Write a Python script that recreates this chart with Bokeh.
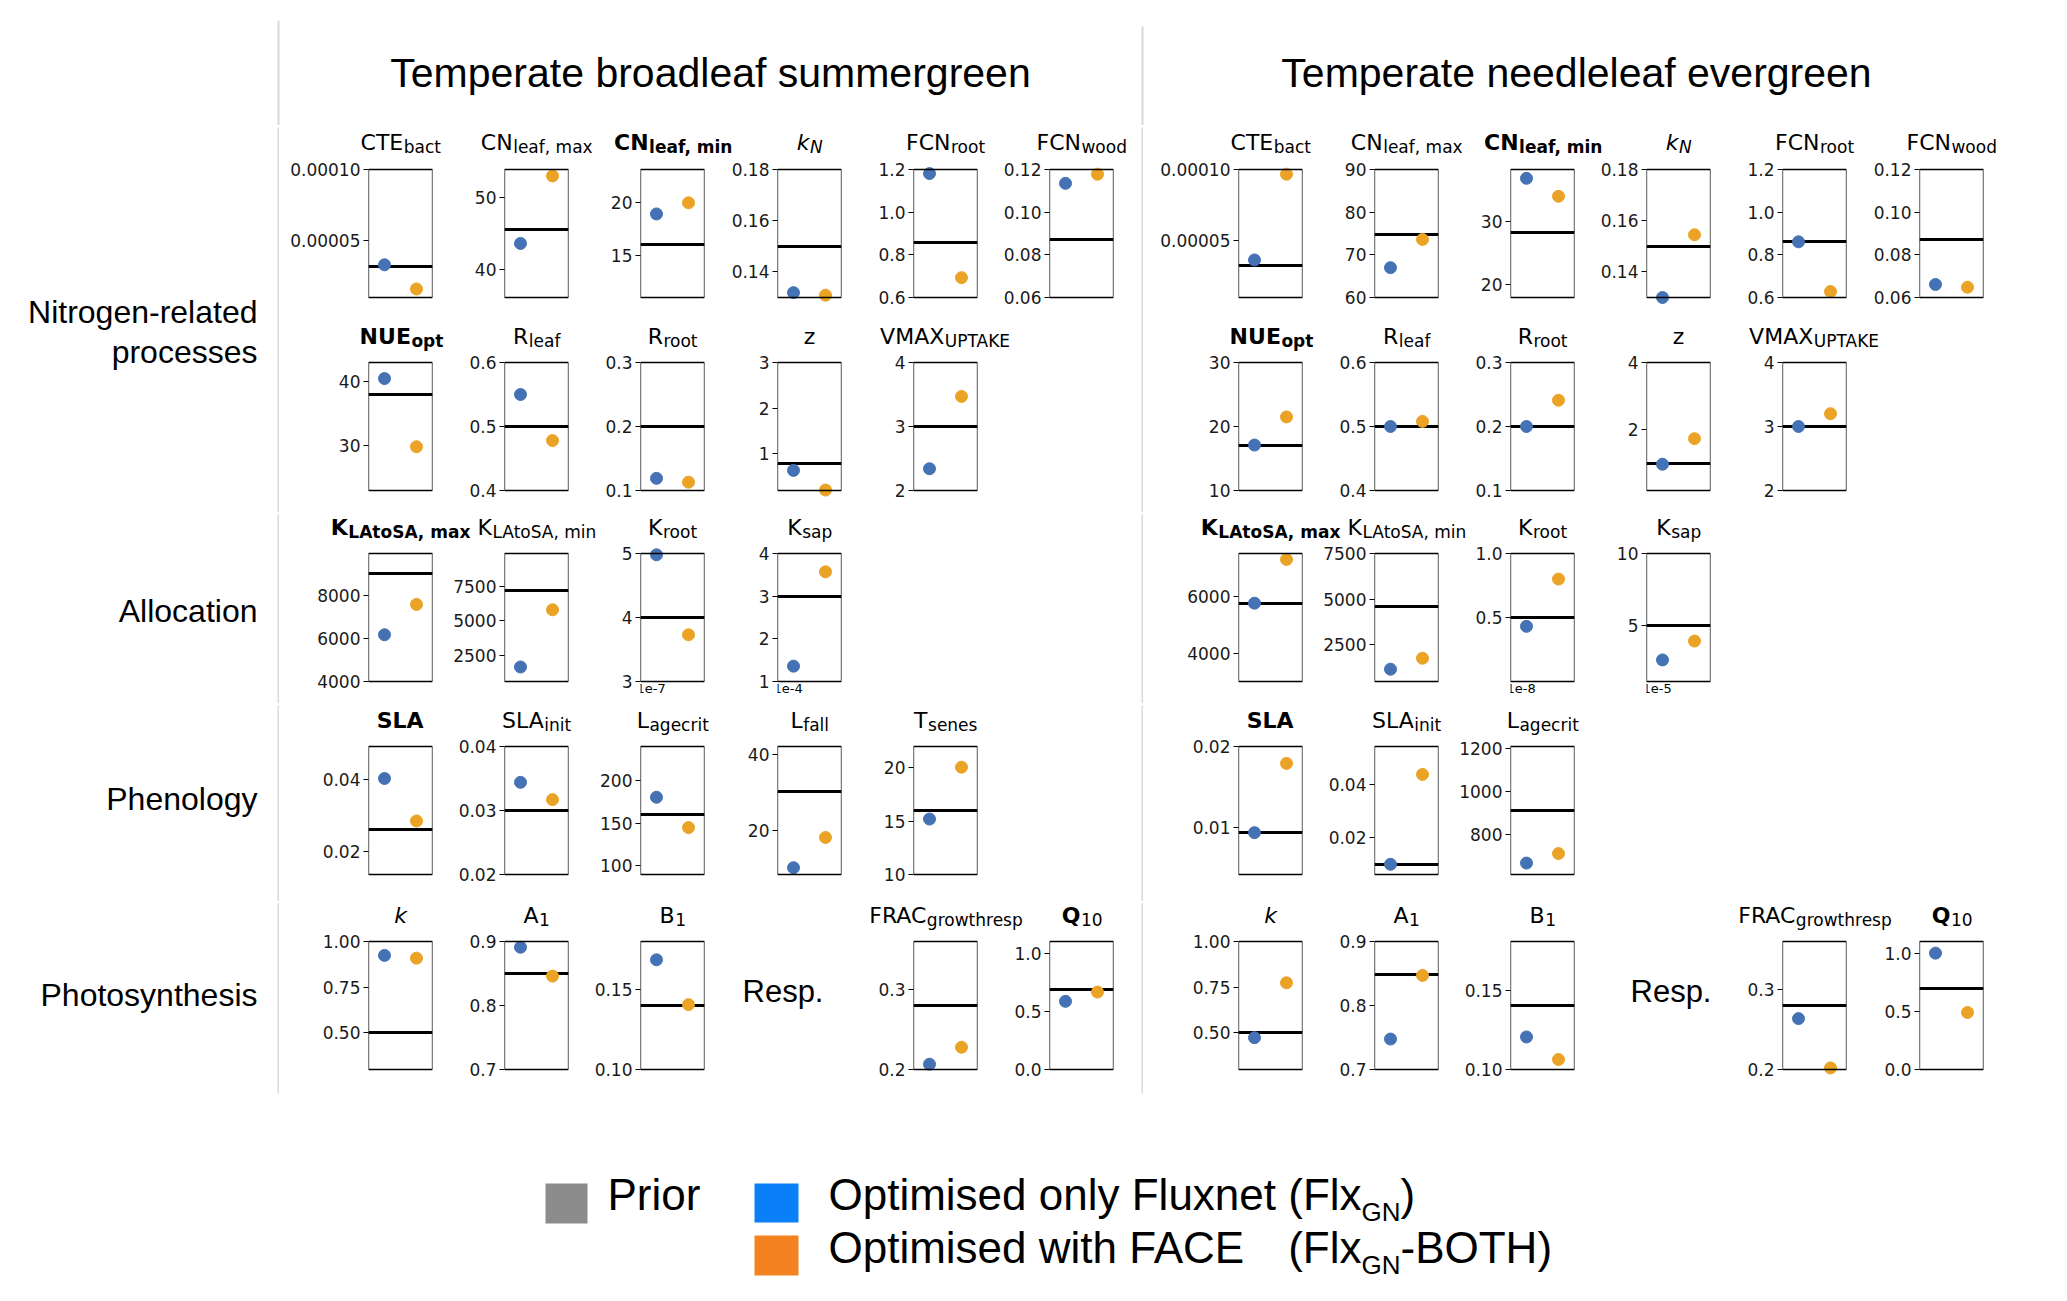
import math
from bokeh.plotting import figure
from bokeh.layouts import row, column
from bokeh.models import (Range1d, FactorRange, FixedTicker, CustomJSTickFormatter,
                          BoxAnnotation, Label, Spacer, ColumnDataSource)
from bokeh.embed import file_html
from bokeh.resources import INLINE
from bokeh.core.properties import value
from bokeh.core.validation import silence
from bokeh.core.validation.warnings import MISSING_RENDERERS

silence(MISSING_RENDERERS, True)

# ======================= DATA =======================
PFT_TITLES = ["Temperate broadleaf summergreen", "Temperate needleleaf evergreen"]
GROUP_LABELS = [["Nitrogen-related", "processes"], ["Allocation"], ["Phenology"], ["Photosynthesis"]]
RESP_LABEL = "Resp."
SERIES = ["FlxGN", "FlxGN-BOTH"]
LEGEND_PRIOR = "Prior"
LEGEND_FLX = ["Optimised only Fluxnet (Flx", "GN", ")"]
LEGEND_BOTH = ["Optimised with FACE", "(Flx", "GN", "-BOTH)"]

# title of each parameter: (main text, subscript, main style, subscript style)
TITLES = {
    "CTEbact": ("CTE", "bact", "normal", "normal"),
    "CNleaf,max": ("CN", "leaf, max", "normal", "normal"),
    "CNleaf,min": ("CN", "leaf, min", "bold", "bold"),
    "kN": ("k", "N", "italic", "italic"),
    "FCNroot": ("FCN", "root", "normal", "normal"),
    "FCNwood": ("FCN", "wood", "normal", "normal"),
    "NUEopt": ("NUE", "opt", "bold", "bold"),
    "Rleaf": ("R", "leaf", "normal", "normal"),
    "Rroot": ("R", "root", "normal", "normal"),
    "z": ("z", "", "normal", "normal"),
    "VMAXUPTAKE": ("VMAX", "UPTAKE", "normal", "normal"),
    "KLAtoSA,max": ("K", "LAtoSA, max", "bold", "bold"),
    "KLAtoSA,min": ("K", "LAtoSA, min", "normal", "normal"),
    "Kroot": ("K", "root", "normal", "normal"),
    "Ksap": ("K", "sap", "normal", "normal"),
    "SLA": ("SLA", "", "bold", "bold"),
    "SLAinit": ("SLA", "init", "normal", "normal"),
    "Lagecrit": ("L", "agecrit", "normal", "normal"),
    "Lfall": ("L", "fall", "normal", "normal"),
    "Tsenes": ("T", "senes", "normal", "normal"),
    "k": ("k", "", "italic", "italic"),
    "A1": ("A", "1", "normal", "normal"),
    "B1": ("B", "1", "normal", "normal"),
    "FRACgrowthresp": ("FRAC", "growthresp", "normal", "normal"),
    "Q10": ("Q", "10", "bold", "normal"),
}

# ---- Temperate broadleaf summergreen ----
PARAMS_BS = ["CTEbact", "CNleaf,max", "CNleaf,min", "kN", "FCNroot", "FCNwood",
             "NUEopt", "Rleaf", "Rroot", "z", "VMAXUPTAKE",
             "KLAtoSA,max", "KLAtoSA,min", "Kroot", "Ksap",
             "SLA", "SLAinit", "Lagecrit", "Lfall", "Tsenes",
             "k", "A1", "B1", "FRACgrowthresp", "Q10"]
PRIOR_BS = [3.2e-5, 45.5, 16.0, 0.150, 0.86, 0.087,
            38.0, 0.50, 0.20, 0.80, 3.0,
            9050, 7190, 4.0e-7, 3.0e-4,
            0.0259, 0.030, 160, 30.3, 16.0,
            0.50, 0.85, 0.140, 0.280, 0.69]
FLX_BS = [3.3e-5, 43.6, 18.9, 0.1319, 1.181, 0.1135,
          40.4, 0.55, 0.119, 0.64, 2.34,
          6185, 1635, 4.98e-7, 1.36e-4,
          0.0402, 0.0344, 180.5, 10.1, 15.2,
          0.924, 0.891, 0.169, 0.2067, 0.589]
BOTH_BS = [1.6e-5, 53.1, 19.95, 0.1309, 0.693, 0.1178,
           29.8, 0.478, 0.113, 0.21, 3.47,
           7600, 5790, 3.73e-7, 3.57e-4,
           0.0284, 0.0317, 145, 18.1, 20.06,
           0.909, 0.846, 0.1408, 0.228, 0.669]
YLO_BS = [1e-5, 36, 11, 0.13, 0.6, 0.06,
          23, 0.4, 0.1, 0.2, 2,
          4000, 580, 3e-7, 1e-4,
          0.0135, 0.02, 90, 8.3, 10,
          0.3, 0.7, 0.10, 0.2, 0.0]
YHI_BS = [1e-4, 54, 23.1, 0.18, 1.2, 0.12,
          42.9, 0.6, 0.3, 3, 4,
          9980, 9880, 5e-7, 4e-4,
          0.0491, 0.04, 240, 42.2, 22,
          1.0, 0.9, 0.1805, 0.361, 1.106]
TICKS_BS = [[5e-5, 1e-4], [40, 50], [15, 20], [0.14, 0.16, 0.18], [0.6, 0.8, 1.0, 1.2], [0.06, 0.08, 0.10, 0.12],
            [30, 40], [0.4, 0.5, 0.6], [0.1, 0.2, 0.3], [1, 2, 3], [2, 3, 4],
            [4000, 6000, 8000], [2500, 5000, 7500], [3e-7, 4e-7, 5e-7], [1e-4, 2e-4, 3e-4, 4e-4],
            [0.02, 0.04], [0.02, 0.03, 0.04], [100, 150, 200], [20, 40], [10, 15, 20],
            [0.5, 0.75, 1.0], [0.7, 0.8, 0.9], [0.10, 0.15], [0.2, 0.3], [0.0, 0.5, 1.0]]
SCALE_BS = [1, 1, 1, 1, 1, 1, 1, 1, 1, 1, 1, 1, 1, 1e-7, 1e-4, 1, 1, 1, 1, 1, 1, 1, 1, 1, 1]
DEC_BS = [5, 0, 0, 2, 1, 2, 0, 1, 1, 0, 0, 0, 0, 0, 0, 2, 2, 0, 0, 0, 2, 1, 2, 1, 1]
ROWS_BS = [[0, 1, 2, 3, 4, 5], [6, 7, 8, 9, 10], [11, 12, 13, 14], [15, 16, 17, 18, 19],
           [20, 21, 22, None, 23, 24]]

# ---- Temperate needleleaf evergreen ----
PARAMS_NE = ["CTEbact", "CNleaf,max", "CNleaf,min", "kN", "FCNroot", "FCNwood",
             "NUEopt", "Rleaf", "Rroot", "z", "VMAXUPTAKE",
             "KLAtoSA,max", "KLAtoSA,min", "Kroot", "Ksap",
             "SLA", "SLAinit", "Lagecrit",
             "k", "A1", "B1", "FRACgrowthresp", "Q10"]
PRIOR_NE = [3.22e-5, 74.8, 28.3, 0.150, 0.861, 0.087,
            17.1, 0.50, 0.20, 1.0, 3.0,
            5766, 4618, 0.5e-8, 5e-5,
            0.0093, 0.0101, 910,
            0.50, 0.849, 0.140, 0.280, 0.70]
FLX_NE = [3.64e-5, 67.0, 36.9, 0.1300, 0.861, 0.0661,
          17.1, 0.50, 0.20, 0.98, 3.0,
          5766, 1173, 0.431e-8, 2.56e-5,
          0.0093, 0.0101, 668,
          0.474, 0.7476, 0.1205, 0.264, 1.0]
BOTH_NE = [9.67e-5, 73.6, 34.05, 0.1545, 0.628, 0.0648,
           21.5, 0.508, 0.241, 1.74, 3.2,
           7310, 1773, 0.80e-8, 3.88e-5,
           0.0179, 0.0436, 712,
           0.774, 0.847, 0.1063, 0.202, 0.49]
YLO_NE = [1e-5, 60, 18, 0.13, 0.6, 0.06,
          10, 0.4, 0.1, 0.2, 2,
          3000, 500, 0, 1.05e-5,
          0.0041, 0.0063, 615,
          0.3, 0.7, 0.10, 0.2, 0.0]
YHI_NE = [1e-4, 90, 38.3, 0.18, 1.2, 0.12,
          30, 0.6, 0.3, 4, 4,
          7520, 7500, 1e-8, 1e-4,
          0.02, 0.054, 1208,
          1.0, 0.9, 0.1806, 0.361, 1.1]
TICKS_NE = [[5e-5, 1e-4], [60, 70, 80, 90], [20, 30], [0.14, 0.16, 0.18], [0.6, 0.8, 1.0, 1.2], [0.06, 0.08, 0.10, 0.12],
            [10, 20, 30], [0.4, 0.5, 0.6], [0.1, 0.2, 0.3], [2, 4], [2, 3, 4],
            [4000, 6000], [2500, 5000, 7500], [0.5e-8, 1e-8], [5e-5, 1e-4],
            [0.01, 0.02], [0.02, 0.04], [800, 1000, 1200],
            [0.5, 0.75, 1.0], [0.7, 0.8, 0.9], [0.10, 0.15], [0.2, 0.3], [0.0, 0.5, 1.0]]
SCALE_NE = [1, 1, 1, 1, 1, 1, 1, 1, 1, 1, 1, 1, 1, 1e-8, 1e-5, 1, 1, 1, 1, 1, 1, 1, 1]
DEC_NE = [5, 0, 0, 2, 1, 2, 0, 1, 1, 0, 0, 0, 0, 1, 0, 2, 2, 0, 2, 1, 2, 1, 1]
ROWS_NE = [[0, 1, 2, 3, 4, 5], [6, 7, 8, 9, 10], [11, 12, 13, 14], [15, 16, 17],
           [18, 19, 20, None, 21, 22]]

PANELS = [
    dict(params=PARAMS_BS, prior=PRIOR_BS, flx=FLX_BS, both=BOTH_BS, lo=YLO_BS, hi=YHI_BS,
         ticks=TICKS_BS, scale=SCALE_BS, dec=DEC_BS, rows=ROWS_BS),
    dict(params=PARAMS_NE, prior=PRIOR_NE, flx=FLX_NE, both=BOTH_NE, lo=YLO_NE, hi=YHI_NE,
         ticks=TICKS_NE, scale=SCALE_NE, dec=DEC_NE, rows=ROWS_NE),
]

# ======================= STYLE / LAYOUT =======================
BLUE = "#4472b4"
ORANGE = "#eba326"
LEG_GRAY = "#8c8c8c"
LEG_BLUE = "#0a80f8"
LEG_ORANGE = "#f58220"
GRAY = "#d9d9d9"
DV_FONT = "DejaVu Sans"
AR_FONT = "Liberation Sans"
TF_MAIN = 22
TF_SUB = 17
SUB_DROP = 4
TICK_FS = "17px"

TOTAL_W = 2059
PANEL_LEFT = [279, 1143]
PANEL_W = [862, 916]
BOX_LEFT = [[368, 504, 640, 777, 913, 1049], [1238, 1374, 1510, 1646, 1782, 1919]]
BOX_W = 64
BOX_H = 128
ROW_GEOM = [dict(strip=32, fig=148, padT=10, padB=10, base=15),
            dict(strip=45, fig=160, padT=10, padB=22, base=29),
            dict(strip=29, fig=160, padT=10, padB=22, base=13),
            dict(strip=31, fig=165, padT=10, padB=27, base=15),
            dict(strip=28, fig=162, padT=10, padB=24, base=12)]
BLOCK_ROWS = [[0, 1], [2], [3], [4]]
BLOCK_H = [385, 189, 196, 190]
LABEL_W = 277
LABEL_RIGHT = 257
LABEL_BASE = [[184, 224], [96], [93], [91]]
RESP_X = [742, 1630]
RESP_BASE = 60
NEXT_GAP = 45
HEADER_H = 125
LEGEND_H = 195

DV = {'A': .684, 'B': .686, 'C': .698, 'D': .770, 'E': .632, 'F': .575, 'G': .775, 'H': .752, 'I': .295,
      'K': .656, 'L': .557, 'M': .863, 'N': .748, 'O': .787, 'P': .603, 'Q': .787, 'R': .695, 'S': .635,
      'T': .611, 'U': .732, 'V': .684, 'X': .685, 'a': .613, 'b': .635, 'c': .550, 'e': .615, 'f': .352,
      'g': .635, 'h': .634, 'i': .278, 'k': .579, 'l': .278, 'm': .974, 'n': .634, 'o': .612, 'p': .635,
      'r': .411, 's': .521, 't': .392, 'u': .634, 'w': .818, 'x': .592, 'z': .525, ',': .318, ' ': .318,
      '.': .318, '-': .361}
AR = {'O': .778, 'p': .556, 't': .278, 'i': .222, 'm': .833, 's': .5, 'e': .556, 'd': .556, ' ': .278,
      'o': .556, 'n': .556, 'l': .222, 'y': .5, 'F': .611, 'u': .556, 'x': .5, '(': .333, ')': .333,
      'w': .722, 'h': .556, 'A': .667, 'C': .722, 'E': .667, 'G': .778, 'N': .722, '-': .333, 'B': .667,
      'T': .611, 'H': .722, 'P': .667, 'r': .333}


def tw_dv(s, size, bold=False):
    w = sum(DV.get(c, .636) for c in s) * size
    return w * 1.12 if bold else w


def tw_ar(s, size):
    return sum(AR.get(c, .556) for c in s) * size


def canvas(w, h, fill="white"):
    p = figure(width=w, height=h, x_range=Range1d(0, w), y_range=Range1d(h, 0), title=None,
               x_axis_location=None, y_axis_location=None, toolbar_location=None,
               output_backend="svg", min_border=0, outline_line_color=None,
               background_fill_color=fill, border_fill_color=fill)
    p.grid.visible = False
    return p


def put_text(p, x, y, s, font, size, style="normal", align="left", color="black"):
    p.text(x=[x], y=[y], text=[s], text_font=value(font), text_font_size=value(f"{size}px"),
           text_font_style=value(style), text_align=value(align),
           text_baseline=value("alphabetic"), text_color=value(color))


def draw_title(p, cx, base, key):
    main, sub, mst, sst = TITLES[key]
    wm = tw_dv(main, TF_MAIN, mst == "bold")
    ws = tw_dv(sub, TF_SUB, sst == "bold") if sub else 0.0
    xr = cx - (wm + ws) / 2 + wm
    put_text(p, xr, base, main, DV_FONT, TF_MAIN, mst, "right")
    if sub:
        put_text(p, xr + 0.5, base + SUB_DROP, sub, DV_FONT, TF_SUB, sst, "left")


def subplot(P, i, bl, g):
    lo, hi = P["lo"][i], P["hi"][i]
    u = (hi - lo) / BOX_H
    p = figure(width=bl + BOX_W + 1, height=g["fig"], title=None,
               x_range=FactorRange(factors=SERIES),
               y_range=Range1d(lo - g["padB"] * u, hi + g["padT"] * u),
               x_axis_location=None, toolbar_location=None, output_backend="svg",
               min_border_left=bl, min_border_right=1, min_border_top=0, min_border_bottom=0,
               outline_line_color=None, background_fill_color="white", border_fill_color="white")
    p.grid.visible = False
    p.hspan(y=[P["prior"][i]], line_color="black", line_width=3)
    src = ColumnDataSource(dict(x=SERIES, y=[P["flx"][i], P["both"][i]], c=[BLUE, ORANGE]))
    p.scatter(x="x", y="y", source=src, size=12, fill_color="c", line_color="c")
    p.add_layout(BoxAnnotation(bottom=lo, top=hi, fill_color=None, fill_alpha=0,
                               line_color="black", line_alpha=1.0, line_width=1.3))
    ax = p.yaxis[0]
    ax.ticker = FixedTicker(ticks=P["ticks"][i])
    ax.formatter = CustomJSTickFormatter(args=dict(s=P["scale"][i], d=P["dec"][i]),
                                         code="return (tick / s).toFixed(d);")
    ax.major_label_text_font = DV_FONT
    ax.major_label_text_font_size = TICK_FS
    ax.major_label_text_color = "#1a1a1a"
    ax.major_tick_out = 5
    ax.major_tick_in = 0
    ax.minor_tick_out = 0
    ax.minor_tick_in = 0
    ax.major_tick_line_color = "black"
    ax.major_tick_line_width = 1.2
    ax.axis_line_color = None
    ax.major_label_standoff = 3
    if P["scale"][i] != 1:
        p.add_layout(Label(x=-4, y=g["padB"] - 2, x_units="screen", y_units="screen",
                           text=f"1e{round(math.log10(P['scale'][i]))}", text_font=DV_FONT,
                           text_font_size="13px", text_align="left", text_baseline="top",
                           text_color="black"))
    return p


def build_row(k, r):
    P = PANELS[k]
    g = ROW_GEOM[r]
    pl, pw, bls = PANEL_LEFT[k], PANEL_W[k], BOX_LEFT[k]
    strip = canvas(pw, g["strip"])
    figs = []
    pos = pl
    for j, it in enumerate(P["rows"][r]):
        if it is None:
            w = bls[j + 1] - NEXT_GAP - pos
            c = canvas(w, g["fig"])
            put_text(c, RESP_X[k] - pos, RESP_BASE, RESP_LABEL, AR_FONT, 31)
            figs.append(c)
            pos += w
            continue
        bl = bls[j] - pos
        figs.append(subplot(P, it, bl, g))
        pos += bl + BOX_W + 1
        draw_title(strip, bls[j] + BOX_W / 2 - pl, g["base"], P["params"][it])
    return column(strip, row(*figs))


def hline(x0, x1):
    return row(Spacer(width=x0, height=2), canvas(x1 - x0, 2, GRAY))


# ---- header ----
header = canvas(TOTAL_W, HEADER_H)
header.segment(x0=[278, 1142], y0=[20, 26], x1=[278, 1142], y1=[HEADER_H, HEADER_H],
               line_color=GRAY, line_width=2)
put_text(header, 710, 72, PFT_TITLES[0], AR_FONT, 41, align="center")
put_text(header, 1576, 72, PFT_TITLES[1], AR_FONT, 41, align="center")

items = [header, hline(46, 2021)]
HL_AFTER = [(46, 2055), (46, 2055), (46, 2055), (16, 2055)]
for b, rows_in in enumerate(BLOCK_ROWS):
    h = BLOCK_H[b]
    lab = canvas(LABEL_W, h)
    for t, yb in zip(GROUP_LABELS[b], LABEL_BASE[b]):
        put_text(lab, LABEL_RIGHT, yb, t, AR_FONT, 32, align="right")
    left = column(*[build_row(0, r) for r in rows_in])
    right = column(*[build_row(1, r) for r in rows_in])
    items.append(row(lab, canvas(2, h, GRAY), left, canvas(2, h, GRAY), right))
    items.append(hline(*HL_AFTER[b]))

# ---- legend ----
leg = canvas(TOTAL_W, LEGEND_H)
leg.quad(left=[545, 754, 754], right=[587, 798, 798], top=[88, 88, 140], bottom=[128, 127, 180],
         fill_color=[LEG_GRAY, LEG_BLUE, LEG_ORANGE], line_color=None)
LFS, LSUB = 44, 26
Y1, Y2, YS = 99, 152, 17
put_text(leg, 607, Y1, LEGEND_PRIOR, AR_FONT, LFS)
x = 828
put_text(leg, x, Y1, LEGEND_FLX[0], AR_FONT, LFS)
xg = x + tw_ar(LEGEND_FLX[0], LFS)
put_text(leg, xg, Y1 + YS, LEGEND_FLX[1], AR_FONT, LSUB)
put_text(leg, xg + tw_ar(LEGEND_FLX[1], LSUB), Y1, LEGEND_FLX[2], AR_FONT, LFS)
put_text(leg, x, Y2, LEGEND_BOTH[0], AR_FONT, LFS)
xf = xg - tw_ar(LEGEND_BOTH[1], LFS)
put_text(leg, xf, Y2, LEGEND_BOTH[1], AR_FONT, LFS)
put_text(leg, xg, Y2 + YS, LEGEND_BOTH[2], AR_FONT, LSUB)
put_text(leg, xg + tw_ar(LEGEND_BOTH[2], LSUB), Y2, LEGEND_BOTH[3], AR_FONT, LFS)
items.append(leg)

layout = column(*items)
open("out.html", "w").write(file_html(layout, INLINE, title="Parameter optimisation"))
